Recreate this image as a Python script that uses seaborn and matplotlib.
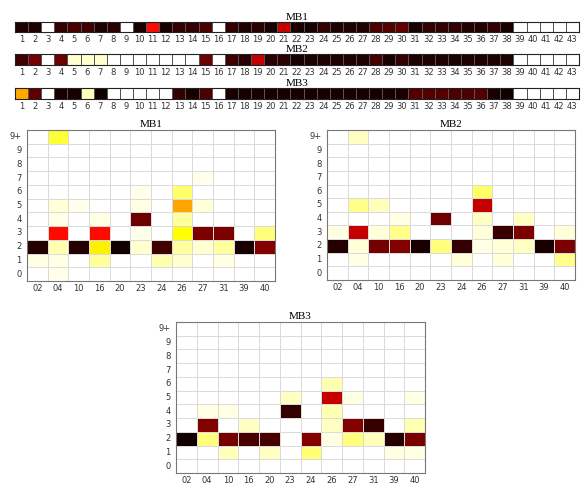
import numpy as np
import pandas as pd
import matplotlib
matplotlib.use("Agg")
import matplotlib.pyplot as plt
import seaborn as sns

# strip values (position 1..43), colour scale 0 (white) .. 1 (black)
positions = [str(i) for i in range(1, 44)]
mb1_strip = [0.97, 0.97, 0, 0.94, 0.91, 0.92, 0.97, 0.95, 0, 0.98,
             0.62, 0.98, 0.94, 0.94, 0.90, 0, 0.94, 0.97, 0.95, 0.98,
             0.72, 0.98, 0.98, 0.94, 0.97, 0.97, 0.97, 0.90, 0.89, 0.87,
             0.98, 0.94, 0.94, 0.94, 0.96, 0.96, 0.94, 0.98, 0, 0,
             0, 0, 0]
mb2_strip = [0.92, 0.84, 0, 0.85, 0.05, 0.05, 0.05, 0, 0, 0,
             0, 0, 0, 0, 0.85, 0, 0.92, 0.95, 0.72, 0.95,
             0.95, 0.98, 0.97, 0.97, 0.97, 0.97, 0.97, 0.91, 0.98, 0.93,
             0.97, 0.97, 0.97, 0.97, 0.97, 0.97, 0.97, 0.97, 0, 0,
             0, 0, 0]
mb3_strip = [0.38, 0.87, 0, 0.98, 0.98, 0.07, 0.99, 0, 0, 0,
             0, 0, 0.94, 0.98, 0.90, 0, 0.98, 0.98, 0.98, 0.98,
             0.98, 0.98, 0.98, 0.98, 0.98, 0.98, 0.98, 0.98, 0.98, 0.98,
             0.89, 0.89, 0.89, 0.90, 0.90, 0.89, 0.98, 0.99, 0, 0,
             0, 0, 0]

# grids: columns = sites, rows = counts (top row first)
sites = ['02', '04', '10', '16', '20', '23', '24', '26', '27', '31', '39', '40']
counts = ['9+', '9', '8', '7', '6', '5', '4', '3', '2', '1', '0']

mb1_grid = [
    [0, .20, 0, 0, 0, 0, 0, 0, 0, 0, 0, 0],
    [0, 0, 0, 0, 0, 0, 0, 0, 0, 0, 0, 0],
    [0, 0, 0, 0, 0, 0, 0, 0, 0, 0, 0, 0],
    [0, 0, 0, 0, 0, 0, 0, 0, .02, 0, 0, 0],
    [0, 0, 0, 0, 0, .02, 0, .15, 0, 0, 0, 0],
    [0, .04, .02, 0, 0, .03, 0, .39, .04, 0, 0, 0],
    [0, .03, 0, .03, 0, .85, 0, .10, 0, 0, 0, 0],
    [0, .62, 0, .62, 0, .02, 0, .25, .83, .83, 0, .13],
    [.96, .08, .96, .28, .99, .05, .92, .10, .05, .10, .98, .82],
    [.03, .03, 0, .10, 0, 0, .08, .05, 0, .03, 0, 0],
    [0, .02, 0, 0, 0, 0, 0, 0, 0, 0, 0, 0],
]
mb2_grid = [
    [0, .06, 0, 0, 0, 0, 0, 0, 0, 0, 0, 0],
    [0, 0, 0, 0, 0, 0, 0, 0, 0, 0, 0, 0],
    [0, 0, 0, 0, 0, 0, 0, 0, 0, 0, 0, 0],
    [0, 0, 0, 0, 0, 0, 0, 0, 0, 0, 0, 0],
    [0, 0, 0, 0, 0, 0, 0, .15, 0, 0, 0, 0],
    [0, .12, .07, 0, 0, 0, 0, .72, 0, 0, 0, 0],
    [0, 0, 0, .03, 0, .85, 0, .06, 0, .06, 0, 0],
    [.03, .72, .04, .12, 0, 0, 0, .04, .93, .83, 0, .04],
    [.96, .04, .84, .82, .98, .13, .94, .03, .04, .06, .98, .83],
    [0, .03, 0, 0, 0, 0, .04, 0, .04, 0, 0, .12],
    [0, 0, 0, 0, 0, 0, 0, 0, 0, 0, 0, 0],
]
mb3_grid = [
    [0, 0, 0, 0, 0, 0, 0, 0, 0, 0, 0, 0],
    [0, 0, 0, 0, 0, 0, 0, 0, 0, 0, 0, 0],
    [0, 0, 0, 0, 0, 0, 0, 0, 0, 0, 0, 0],
    [0, 0, 0, 0, 0, 0, 0, 0, 0, 0, 0, 0],
    [0, 0, 0, 0, 0, 0, 0, .08, 0, 0, 0, 0],
    [0, 0, 0, 0, 0, .06, 0, .72, .03, 0, 0, .03],
    [0, .03, .03, 0, 0, .94, 0, .08, 0, 0, 0, 0],
    [0, .82, 0, .06, 0, 0, 0, .06, .82, .93, 0, .08],
    [.99, .13, .84, .91, .91, 0, .82, .03, .13, .07, .96, .83],
    [0, 0, .07, 0, .06, 0, .14, 0, 0, 0, .03, .03],
    [0, 0, 0, 0, 0, 0, 0, 0, 0, 0, 0, 0],
]

title_font = dict(family='Liberation Serif', fontsize=8)
tick_size = 6

fig = plt.figure(figsize=(5.83, 4.86), dpi=100)

# top strips
strip_boxes = [
    ('MB1', mb1_strip, [0.0257, 0.9342, 0.9674, 0.0206]),
    ('MB2', mb2_strip, [0.0257, 0.8663, 0.9674, 0.0226]),
    ('MB3', mb3_strip, [0.0257, 0.7963, 0.9674, 0.0226]),
]
for name, vals, box in strip_boxes:
    ax = fig.add_axes(box)
    df = pd.DataFrame([vals], columns=positions)
    sns.heatmap(df, ax=ax, cmap='hot_r', vmin=0, vmax=1, cbar=False,
                linewidths=0.6, linecolor='#555555',
                xticklabels=True, yticklabels=False)
    ax.tick_params(axis='x', length=0, pad=2, labelsize=tick_size,
                   labelcolor='#333333', labelrotation=0)
    for s in ax.spines.values():
        s.set_visible(True)
        s.set_color('#222222')
        s.set_linewidth(0.8)
    ax.set_title(name, pad=0.5, **title_font)

# bottom grids
grid_boxes = [
    ('MB1', mb1_grid, [0.0463, 0.4218, 0.4254, 0.3107]),
    ('MB2', mb2_grid, [0.5609, 0.4239, 0.4254, 0.3086]),
    ('MB3', mb3_grid, [0.3019, 0.0267, 0.4271, 0.3107]),
]
for name, grid, box in grid_boxes:
    ax = fig.add_axes(box)
    df = pd.DataFrame(grid, index=counts, columns=sites)
    sns.heatmap(df, ax=ax, cmap='hot_r', vmin=0, vmax=1, cbar=False,
                linewidths=0.6, linecolor='#dadada',
                xticklabels=True, yticklabels=True)
    ax.tick_params(length=0, pad=4, labelsize=tick_size, labelcolor='#333333')
    ax.tick_params(axis='x', labelrotation=0, pad=2)
    ax.tick_params(axis='y', labelrotation=0)
    for s in ax.spines.values():
        s.set_visible(True)
        s.set_color('#777777')
        s.set_linewidth(0.8)
    ax.set_title(name, pad=2, **title_font)

fig.savefig('out.png', dpi=100)
